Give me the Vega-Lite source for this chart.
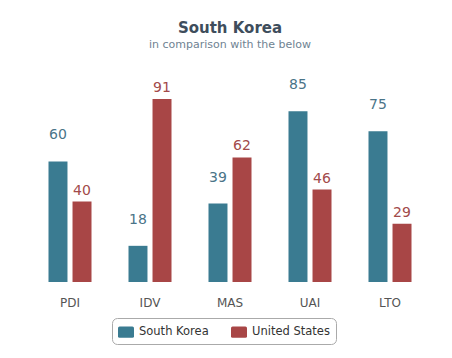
{
  "$schema": "https://vega.github.io/schema/vega-lite/v6.json",
  "width": 400,
  "height": 201,
  "autosize": {"type": "none"},
  "padding": {"left": 30, "top": 81, "right": 22, "bottom": 76},
  "background": "white",
  "title": {
    "text": "South Korea",
    "subtitle": "in comparison with the below",
    "anchor": "middle",
    "frame": "group",
    "font": "DejaVu Sans",
    "fontSize": 15,
    "fontWeight": "bold",
    "color": "#3e4d5c",
    "subtitleFont": "DejaVu Sans",
    "subtitleFontSize": 11,
    "subtitleColor": "#6f8392",
    "subtitlePadding": 3,
    "offset": 28
  },
  "data": {
    "values": [
      {"dim": "PDI", "country": "South Korea", "value": 60},
      {"dim": "PDI", "country": "United States", "value": 40},
      {"dim": "IDV", "country": "South Korea", "value": 18},
      {"dim": "IDV", "country": "United States", "value": 91},
      {"dim": "MAS", "country": "South Korea", "value": 39},
      {"dim": "MAS", "country": "United States", "value": 62},
      {"dim": "UAI", "country": "South Korea", "value": 85},
      {"dim": "UAI", "country": "United States", "value": 46},
      {"dim": "LTO", "country": "South Korea", "value": 75},
      {"dim": "LTO", "country": "United States", "value": 29}
    ]
  },
  "encoding": {
    "x": {
      "field": "dim", "type": "nominal", "sort": null,
      "scale": {"paddingInner": 0, "paddingOuter": 0},
      "axis": {"title": null, "domain": false, "ticks": false, "labelAngle": 0, "labelPadding": 15, "labelFont": "DejaVu Sans", "labelFontSize": 12, "labelColor": "#555555"}
    },
    "xOffset": {
      "field": "country", "type": "nominal",
      "scale": {"paddingInner": 0.21, "paddingOuter": 0.77}
    },
    "y": {
      "field": "value", "type": "quantitative",
      "scale": {"domain": [0, 100], "nice": false},
      "axis": null
    },
    "color": {
      "field": "country", "type": "nominal",
      "scale": {"domain": ["South Korea", "United States"], "range": ["#3a7b91", "#a84646"]},
      "legend": {
        "title": null,
        "orient": "none",
        "direction": "horizontal",
        "legendX": 82,
        "legendY": 237,
        "symbolType": "M-0.8,-0.7 L0.8,-0.7 Q1,-0.7 1,-0.5 L1,0.5 Q1,0.7 0.8,0.7 L-0.8,0.7 Q-1,0.7 -1,0.5 L-1,-0.5 Q-1,-0.7 -0.8,-0.7 Z",
        "symbolSize": 256,
        "symbolStrokeWidth": 0,
        "labelOffset": 5,
        "labelFont": "DejaVu Sans",
        "labelFontSize": 11.5,
        "labelColor": "#333333",
        "columnPadding": 22,
        "padding": 6,
        "strokeColor": "#aaaaaa",
        "cornerRadius": 5
      }
    }
  },
  "layer": [
    {"mark": {"type": "bar"}},
    {
      "transform": [{"filter": "datum.country == 'South Korea'"}],
      "mark": {"type": "text", "baseline": "middle", "dy": -26, "font": "DejaVu Sans", "fontSize": 14},
      "encoding": {"text": {"field": "value", "type": "quantitative"}, "color": {"value": "#4a7488"}}
    },
    {
      "transform": [{"filter": "datum.country == 'United States'"}],
      "mark": {"type": "text", "baseline": "middle", "dy": -11, "font": "DejaVu Sans", "fontSize": 14},
      "encoding": {"text": {"field": "value", "type": "quantitative"}, "color": {"value": "#a24a4a"}}
    }
  ],
  "config": {"view": {"stroke": null}}
}
